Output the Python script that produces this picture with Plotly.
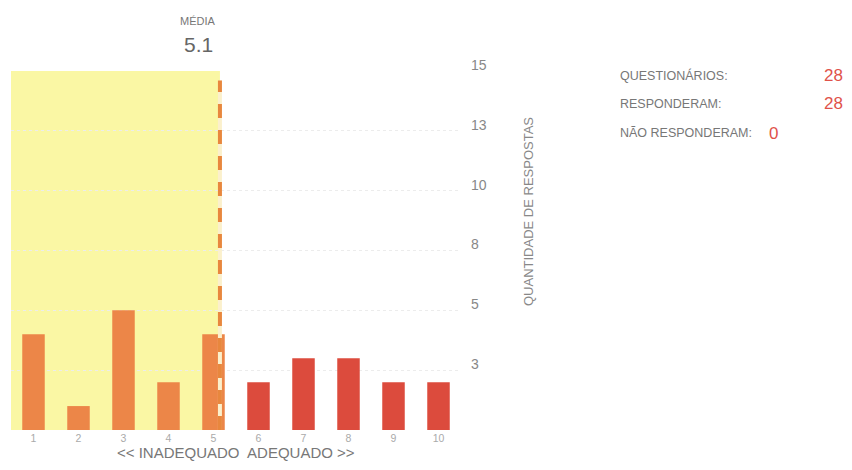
import plotly.graph_objects as go

categories = [1, 2, 3, 4, 5, 6, 7, 8, 9, 10]
counts = [4, 1, 5, 2, 4, 2, 3, 3, 2, 2]
y_tick_values = [2.5, 5, 7.5, 10, 12.5, 15]
y_tick_labels = ["3", "5", "8", "10", "13", "15"]
stats_labels = ["QUESTIONÁRIOS:", "RESPONDERAM:", "NÃO RESPONDERAM:"]
stats_values = ["28", "28", "0"]

total = sum(counts)
mean = sum(c * n for c, n in zip(categories, counts)) / total

FONT = "Arial, Liberation Sans, sans-serif"
ORANGE = "#EC8648"
RED = "#DC4B3D"
YELLOW = "#FAF7A4"

# page body has an 8px margin: figure is sized to fit inside the 852x470 window
W, H = 836, 454
L, R, T, B = 3, 383, 63, 32
PW, PH = W - L - R, H - T - B


def px(sx):
    """screen x pixel -> paper fraction"""
    return (sx - 8 - L) / PW


def py(sy):
    """screen y pixel -> paper fraction"""
    return 1 - (sy - 8 - T) / PH


colors = [ORANGE if c <= 5 else RED for c in categories]

fig = go.Figure()
fig.add_trace(go.Bar(x=categories, y=counts, marker=dict(color=colors, line=dict(width=0)),
                     width=0.5, hoverinfo="x+y"))

# yellow "inadequate" zone up to the mean
fig.add_shape(type="rect", xref="x", yref="y", x0=0.5, x1=mean, y0=0, y1=15,
              fillcolor=YELLOW, line=dict(width=0), layer="below")
# two-tone dashed mean line
fig.add_shape(type="line", xref="x", yref="y", x0=mean, x1=mean, y0=0, y1=14.6,
              line=dict(color="#FBF0CC", width=4), layer="above")
fig.add_shape(type="line", xref="x", yref="y", x0=mean, x1=mean, y0=0, y1=14.6,
              line=dict(color="#E8873E", width=4, dash="14px,12px"), layer="above")

# mean label
fig.add_annotation(x=mean, xref="x", y=py(21), yref="paper", xshift=-22,
                   text="MÉDIA", showarrow=False, xanchor="center", yanchor="middle",
                   font=dict(family=FONT, size=11, color="#777"))
fig.add_annotation(x=mean, xref="x", y=py(45), yref="paper", xshift=-21,
                   text=f"{mean:.1f}", showarrow=False, xanchor="center", yanchor="middle",
                   font=dict(family=FONT, size=21, color="#666"))

# axis titles
fig.add_annotation(x=px(528), xref="paper", y=py(212), yref="paper",
                   text="QUANTIDADE DE RESPOSTAS", textangle=-90, showarrow=False,
                   xanchor="center", yanchor="middle",
                   font=dict(family=FONT, size=13, color="#888"))
fig.add_annotation(x=px(236), xref="paper", y=py(452), yref="paper",
                   text="&lt;&lt; INADEQUADO  ADEQUADO &gt;&gt;", showarrow=False,
                   xanchor="center", yanchor="middle",
                   font=dict(family=FONT, size=15, color="#777"))

# stats panel
row_y = [75, 104, 133]
value_x = [822, 822, 767]
for lab, val, sy, vx in zip(stats_labels, stats_values, row_y, value_x):
    fig.add_annotation(x=px(618), xref="paper", y=py(sy), yref="paper",
                       text=lab, showarrow=False, xanchor="left", yanchor="middle",
                       font=dict(family=FONT, size=12.5, color="#777"))
    fig.add_annotation(x=px(vx), xref="paper", y=py(sy), yref="paper",
                       text=val, showarrow=False, xanchor="left", yanchor="middle",
                       font=dict(family=FONT, size=17, color="#E0524A"))

fig.update_layout(
    width=W, height=H,
    margin=dict(l=L, r=R, t=T, b=B),
    paper_bgcolor="white", plot_bgcolor="white",
    showlegend=False, bargap=0.5,
    font=dict(family=FONT, color="#888"),
    xaxis=dict(range=[0.5, 10.5], tickmode="array", tickvals=categories,
               ticktext=[str(c) for c in categories], showgrid=False, zeroline=False,
               showline=False, ticks="", tickfont=dict(size=10.5, color="#aaa")),
    yaxis=dict(range=[0, 15], side="right", tickmode="array", tickvals=y_tick_values,
               ticktext=y_tick_labels, showgrid=True, gridcolor="#ececec", griddash="dot",
               gridwidth=1, zeroline=False, showline=False, ticks="",
               tickfont=dict(size=14, color="#888"), ticklabelshift=-6, ticklabelstandoff=9),
)

fig.write_html("out.html")
